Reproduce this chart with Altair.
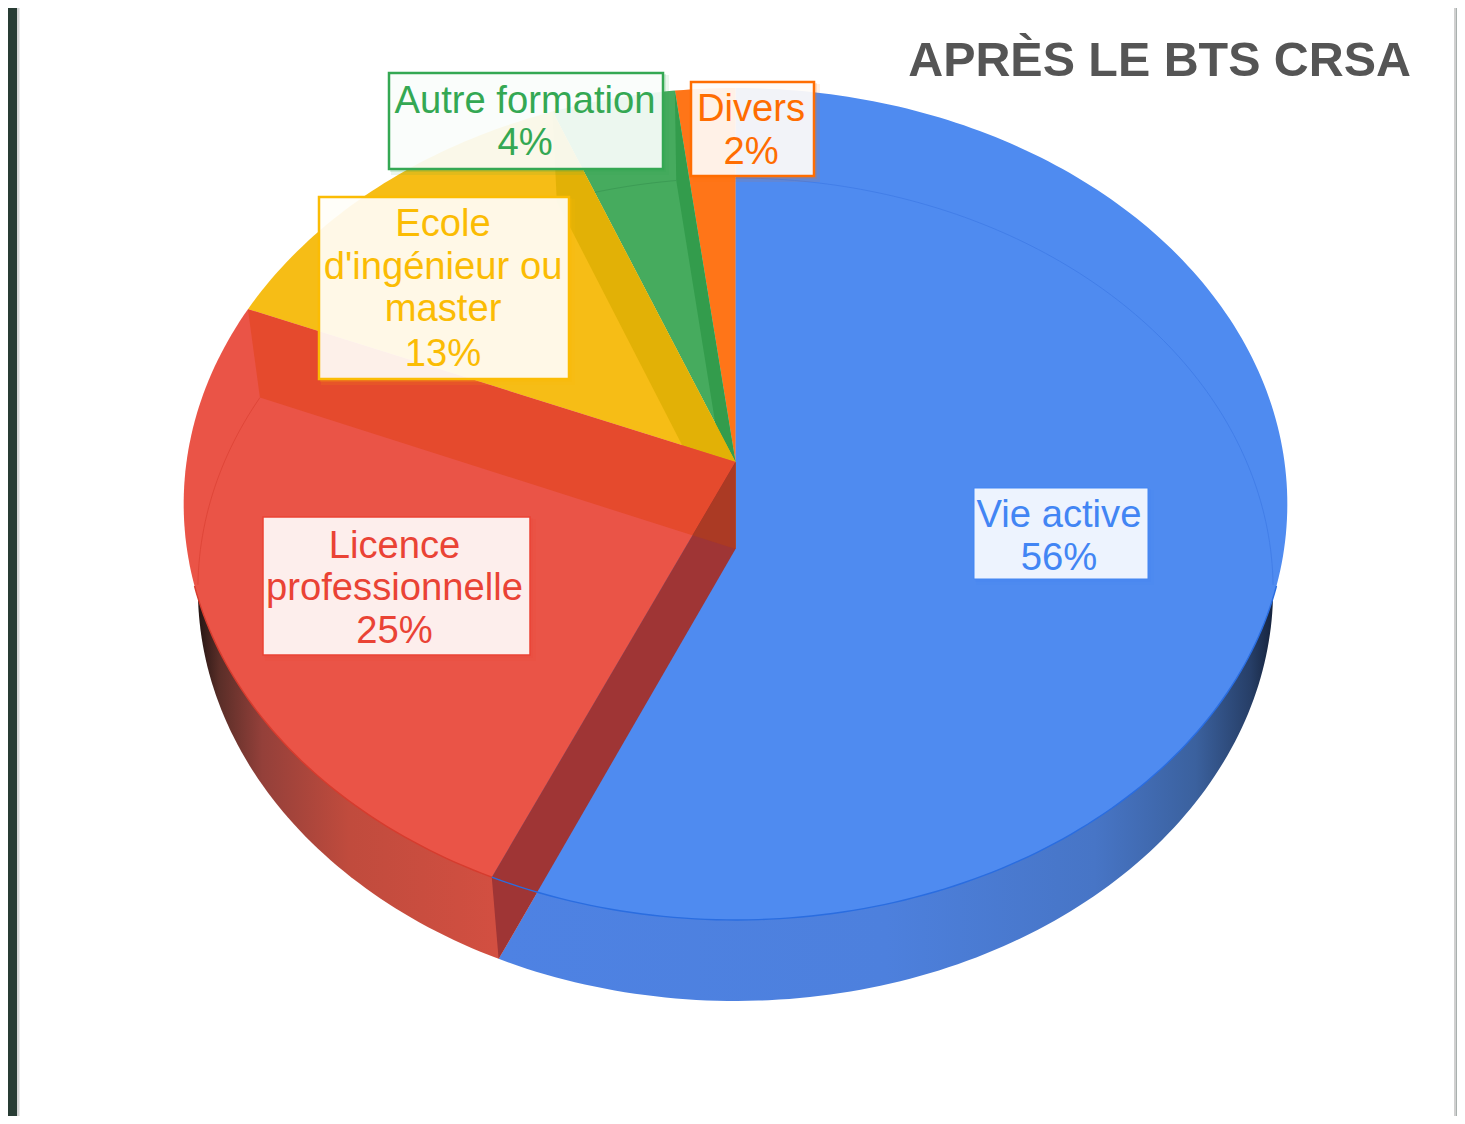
import math
import altair as alt
import pandas as pd

# ---- data ----
CATEGORIES = ["Vie active", "Licence professionnelle", "Ecole d'ingénieur ou master", "Autre formation", "Divers"]
SHARES = [56.6, 24.7, 12.76, 4.0, 1.94]
LABEL_LINES = [
    ["Vie active", "56%"],
    ["Licence", "professionnelle", "25%"],
    ["Ecole", "d'ingénieur ou", "master", "13%"],
    ["Autre formation", "4%"],
    ["Divers", "2%"],
]
TITLE = "APRÈS LE BTS CRSA"

# ---- styles / layout (page pixels) ----
OFF = 8
TOP = dict(cx=735.5, cy=462, a=549, b=411.7, k=-0.101)
LOW = dict(cx=735.5, cy=549, a=535, b=407.5, k=-0.0984)
TOP_COL = ["#4f8bf0", "#ea5447", "#f6bd16", "#46ab5e", "#ff7518"]
TEXT_COL = ["#4285f4", "#ea4335", "#fbbc04", "#34a853", "#ff6d01"]
BOX = [(974, 488, 1148, 579), (263, 517, 530, 655), (319, 197, 569, 379), (389, 73, 663, 169), (691, 82, 814, 176)]
BOX_STROKE = [1, 1.5, 2.5, 2.5, 2.5]
TEXT_X = [1059, 394.5, 443, 525, 751]
BASE = [[527, 570], [558, 600, 643], [236, 279, 321, 366], [113, 155], [121, 164]]
FONT = "Liberation Sans"


def pt(theta, K):
    t = math.radians(theta)
    u, v = math.sin(t), -math.cos(t)
    d = 1 + K["k"] * v
    return [K["cx"] + K["a"] * u / d, K["cy"] + K["b"] * v / d]


def arc(a, b, K):
    n = max(2, int(abs(b - a)) + 1)
    return [pt(a + (b - a) * i / n, K) for i in range(n + 1)]


edges = [0.0]
for s in SHARES:
    edges.append(edges[-1] + s * 3.6)

APEX_T, APEX_L = [TOP["cx"], TOP["cy"]], [LOW["cx"], LOW["cy"]]
PROJ = alt.Projection(type="identity", scale=1, translate=[-OFF, -OFF])


def poly(coords, **mark):
    ring = list(coords) + [coords[0]]
    f = {"type": "Feature", "properties": {}, "geometry": {"type": "Polygon", "coordinates": [ring]}}
    return alt.Chart(alt.Data(values=[f])).mark_geoshape(strokeWidth=0, **mark).project(**PROJ.to_dict())


def stroke(coords, color, width=1.0, opacity=1.0):
    f = {"type": "Feature", "properties": {}, "geometry": {"type": "LineString", "coordinates": coords}}
    return alt.Chart(alt.Data(values=[f])).mark_geoshape(
        filled=False, stroke=color, strokeWidth=width, strokeOpacity=opacity
    ).project(**PROJ.to_dict())


def grad(stops):
    return alt.LinearGradient(
        gradient="linear", x1=0, x2=1, y1=0, y2=0,
        stops=[alt.GradientStop(offset=o, color=c) for o, c in stops],
    )


def rect(x0, y0, x1, y1, color, opacity=1.0, **mark):
    df = pd.DataFrame({"x": [x0 - OFF], "x2": [x1 - OFF], "y": [y0 - OFF], "y2": [y1 - OFF]})
    return alt.Chart(df).mark_rect(fill=color, fillOpacity=opacity, **mark).encode(
        x=alt.X("x:Q", scale=None, axis=None), x2="x2:Q",
        y=alt.Y("y:Q", scale=None, axis=None), y2="y2:Q",
    )


def intersect(p1, p2, p3, p4):
    x1, y1, x2, y2 = *p1, *p2
    x3, y3, x4, y4 = *p3, *p4
    den = (x1 - x2) * (y3 - y4) - (y1 - y2) * (x3 - x4)
    t = ((x1 - x3) * (y3 - y4) - (y1 - y3) * (x3 - x4)) / den
    return [x1 + t * (x2 - x1), y1 + t * (y2 - y1)]


e = edges
layers = []

# frame of the screenshot
layers += [
    rect(OFF, OFF, 17, 1116, "#283c34"), rect(17, OFF, 19.5, 1116, "#d4d4d4"),
    rect(1454, OFF, 1456.7, 1116, "#d0d0d0"), rect(1456.7, OFF, 1457, 1116, "#2f4540"),
]

# rim: lower disc sectors with horizontal shading
layers.append(poly([APEX_L] + arc(e[0], e[1], LOW), fill=grad([
    (0, "#4e82e3"), (0.5, "#4d80dd"), (0.77, "#4775c6"), (0.9, "#3b619e"), (0.97, "#273f68"), (1, "#16233c")])))
layers.append(poly([APEX_L] + arc(e[1], e[2], LOW), fill=grad([
    (0, "#241513"), (0.04, "#5a2e28"), (0.12, "#94403a"), (0.28, "#c04b3d"), (0.55, "#d24f41"), (1, "#d24f41")])))

# top faces and the walls seen through them
layers.append(poly([APEX_T] + arc(e[0], e[1], TOP), fill=TOP_COL[0]))
layers.append(poly([APEX_T] + arc(e[4], e[5], TOP), fill=TOP_COL[4]))
layers.append(poly([APEX_T] + arc(e[3], e[4], TOP), fill=TOP_COL[3]))
layers.append(poly([APEX_T, pt(e[4], TOP), pt(e[4], LOW), APEX_L], fill="#339c4c"))
layers.append(stroke(arc(e[3], e[4], LOW), "#3c9c55", 1))
layers.append(poly([APEX_T] + arc(e[2], e[3], TOP), fill=TOP_COL[2]))
layers.append(poly([APEX_T, pt(e[3], TOP), pt(e[3], LOW), APEX_L], fill="#e2b106"))
layers.append(poly([APEX_T] + arc(e[1], e[2], TOP), fill=TOP_COL[1]))
layers.append(poly([APEX_T, pt(e[2], TOP), pt(e[2], LOW), APEX_L], fill="#e54a2d"))
layers.append(poly([APEX_T, pt(e[1], TOP), pt(e[1], LOW), APEX_L], fill="#9f3535"))
cross = intersect(APEX_T, pt(e[1], TOP), APEX_L, pt(e[2], LOW))
layers.append(poly([APEX_T, cross, APEX_L], fill="#ab3a24"))

# faint and firm edges
layers.append(stroke(arc(0, 95, LOW), "#3f7be6", 1, 0.8))
layers.append(stroke(arc(265, e[2], LOW), "#dc4234", 1, 0.8))
layers.append(stroke(arc(107, e[1], TOP), "#2a6de0", 1.4))
layers.append(stroke(arc(e[1], 253, TOP), "#d63c2e", 1.4))

# data labels
for i in range(len(CATEGORIES)):
    x0, y0, x1, y1 = BOX[i]
    layers.append(rect(x0 + 2, y0 + 2, x1 + 6, y1 + 6, TEXT_COL[i], 0.10))
    layers.append(rect(x0 + 1, y0 + 1, x1 + 3, y1 + 3, TEXT_COL[i], 0.16))
    layers.append(rect(x0, y0, x1, y1, "#ffffff", 0.9, stroke=TEXT_COL[i], strokeWidth=BOX_STROKE[i]))
    df = pd.DataFrame({
        "t": LABEL_LINES[i],
        "x": [TEXT_X[i] - OFF] * len(LABEL_LINES[i]),
        "y": [b - OFF for b in BASE[i]],
    })
    layers.append(
        alt.Chart(df).mark_text(font=FONT, fontSize=38.2, align="center", baseline="alphabetic",
                                color=TEXT_COL[i]).encode(
            x=alt.X("x:Q", scale=None, axis=None), y=alt.Y("y:Q", scale=None, axis=None), text="t:N")
    )

# title
layers.append(
    alt.Chart(pd.DataFrame({"t": [TITLE], "x": [1411 - OFF], "y": [76 - OFF]})).mark_text(
        font=FONT, fontSize=48.4, fontWeight="bold", align="right", baseline="alphabetic", color="#555555"
    ).encode(x=alt.X("x:Q", scale=None, axis=None), y=alt.Y("y:Q", scale=None, axis=None), text="t:N")
)

chart = alt.layer(*layers).properties(
    width=1449, height=1108, padding=0, autosize="none", background="#ffffff"
).configure_view(stroke=None)

chart.save("out.html", embed_options={"renderer": "svg", "actions": False})
